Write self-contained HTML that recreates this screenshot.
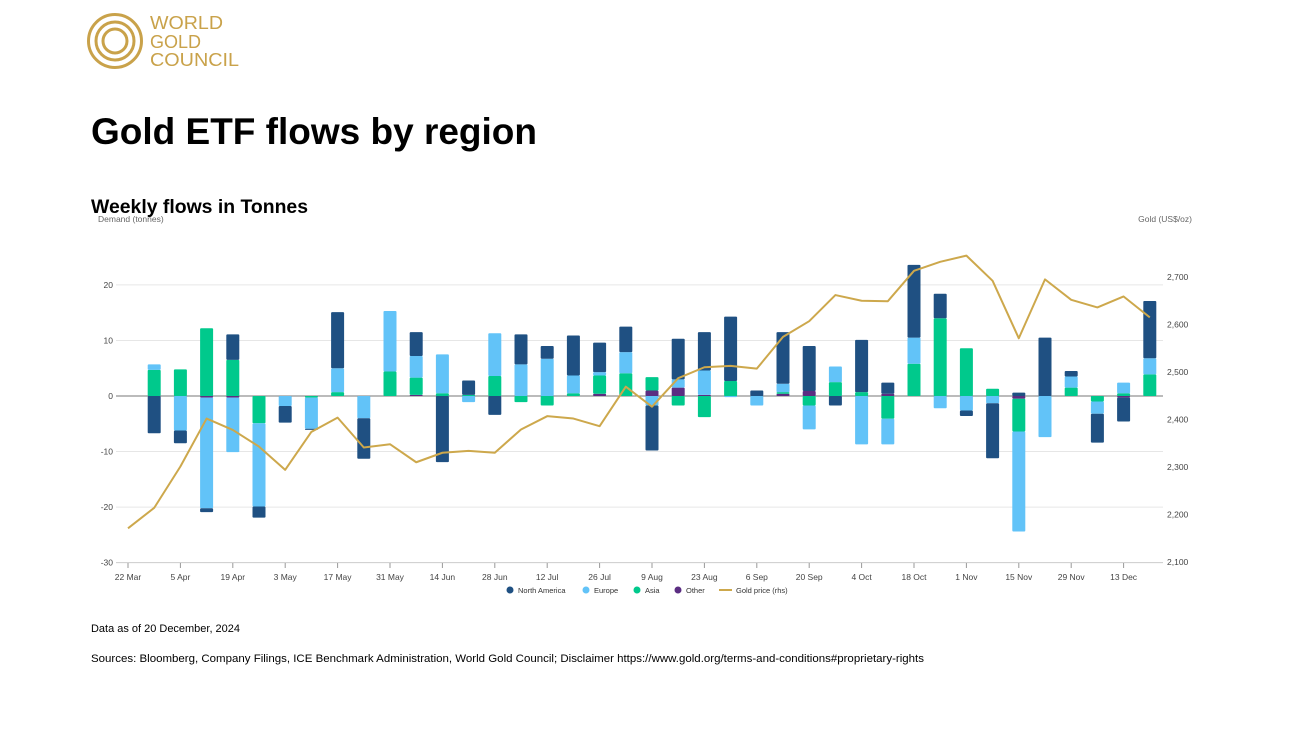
<!DOCTYPE html>
<html><head><meta charset="utf-8"><style>
body{margin:0;width:1292px;height:739px;background:#fff;font-family:"Liberation Sans",sans-serif;position:relative;overflow:hidden}
.abs{position:absolute}
</style></head><body>
<svg class="abs" style="left:0;top:0" width="1292" height="739">
<g fill="none" stroke="#c9a24a">
<circle cx="115" cy="41" r="26.5" stroke-width="3"/>
<circle cx="115" cy="41" r="19" stroke-width="3"/>
<circle cx="115" cy="41" r="12" stroke-width="3"/>
</g>
<g fill="#c9a24a" font-size="18" font-family="Liberation Sans, sans-serif">
<text x="150" y="29" textLength="73" lengthAdjust="spacingAndGlyphs">WORLD</text><text x="150" y="48">GOLD</text><text x="150" y="66" textLength="89" lengthAdjust="spacingAndGlyphs">COUNCIL</text>
</g>
<text x="91" y="144" font-size="37" font-weight="bold" fill="#000" textLength="446" lengthAdjust="spacingAndGlyphs">Gold ETF flows by region</text>
<text x="91" y="213" font-size="19" font-weight="bold" fill="#000" textLength="217" lengthAdjust="spacingAndGlyphs">Weekly flows in Tonnes</text>
<text x="98" y="222" font-size="8.5" fill="#666">Demand (tonnes)</text>
<text x="1192" y="222" font-size="8.5" fill="#666" text-anchor="end">Gold (US$/oz)</text>
<g id="chart"></g>
<g font-size="7.5" fill="#333">
<circle cx="510" cy="590" r="3.5" fill="#1f5082"/><text x="518" y="593">North America</text>
<circle cx="586" cy="590" r="3.5" fill="#62c3f8"/><text x="594" y="593">Europe</text>
<circle cx="637" cy="590" r="3.5" fill="#00c98c"/><text x="645" y="593">Asia</text>
<circle cx="678" cy="590" r="3.5" fill="#5b2d82"/><text x="686" y="593">Other</text>
<line x1="719" y1="590" x2="732" y2="590" stroke="#cda84c" stroke-width="2"/><text x="736" y="593">Gold price (rhs)</text>
</g>
<text x="91" y="632" font-size="11" fill="#000" textLength="149" lengthAdjust="spacingAndGlyphs">Data as of 20 December, 2024</text>
<text x="91" y="662" font-size="11" fill="#000" textLength="833" lengthAdjust="spacingAndGlyphs">Sources: Bloomberg, Company Filings, ICE Benchmark Administration, World Gold Council; Disclaimer https://www.gold.org/terms-and-conditions#proprietary-rights</text>
</svg>
<script>
const tickLabels=["22 Mar","5 Apr","19 Apr","3 May","17 May","31 May","14 Jun","28 Jun","12 Jul","26 Jul","9 Aug","23 Aug","6 Sep","20 Sep","4 Oct","18 Oct","1 Nov","15 Nov","29 Nov","13 Dec"];
const northAmerica=[0,-6.7,-2.3,-0.7,4.6,-2,-3,-0.2,10.1,-7.3,0,4.3,-11.9,2.6,-3.4,5.4,2.3,7.2,5.3,4.6,-8.1,7.3,6.9,11.6,1,9.3,8.1,-1.7,9.4,2,13.1,4.4,-1,-9.9,0.6,10.5,1,-5.2,-4.3,10.3];
const europe=[0,1,-6.2,-19.9,-9.8,-15,-1.8,-5.6,4.3,-4,10.9,3.9,7,-1.1,7.7,5.7,6.7,3.2,0.6,3.8,-1.7,1.5,4.4,-0.2,-1.7,1.5,-4.3,2.8,-8.7,-4.6,4.7,-2.2,-2.6,-1.3,-18,-7.4,2,-2.2,1.9,2.9];
const asia=[0,4.7,4.8,12.2,6.5,-4.9,0,-0.3,0.7,0,4.4,3.1,0.5,0.2,3.6,-1.1,-1.7,0.5,3.3,4.1,2.4,-1.7,-3.8,2.7,0,0.3,-1.7,2.5,0.7,-4.1,5.8,14,8.6,1.3,-5.9,0,1.5,-1,0.5,3.9];
const other=[0,0,0,-0.3,-0.3,0,0,0,0,0,0,0.2,0,0,0,0,0,0,0.4,0,1,1.5,0.2,0,0,0.4,0.9,0,0,0.4,0,0,0,0,-0.5,0,0,0,-0.3,0];
const goldPrice=[2171,2214,2301,2402,2378,2343,2294,2374,2404,2341,2348,2310,2330,2334,2330,2379,2407,2402,2386,2469,2427,2487,2510,2513,2507,2574,2607,2662,2650,2649,2713,2732,2745,2692,2571,2695,2652,2636,2659,2615];
const leftTicks=[20,10,0,-10,-20,-30];
const rightTicks=[2100,2200,2300,2400,2500,2600,2700];
const NS='http://www.w3.org/2000/svg';
const g=document.getElementById('chart');
const X=i=>128+i*26.2;
const Y=v=>396-v*5.555;
const YR=p=>562-(p-2100)*0.475;
function mk(t,a,parent){const e=document.createElementNS(NS,t);for(const k in a)e.setAttribute(k,a[k]);(parent||g).appendChild(e);return e;}
leftTicks.forEach(v=>{
 const l=mk('line',{x1:116,x2:1163,y1:Y(v),y2:Y(v),stroke:v===0?'#777':(v===-30?'#ccc':'#e6e6e6'),'stroke-width':1});
 
 
 const t=mk('text',{x:113,y:Y(v)+3,'font-size':8.5,fill:'#444','text-anchor':'end'});t.textContent=v;
 
 
});
rightTicks.forEach(p=>{
 const t=mk('text',{x:1167,y:YR(p)+3,'font-size':8.5,fill:'#444'});t.textContent=p.toLocaleString('en-US');
 
 
});
tickLabels.forEach((s,k)=>{
 const x=X(k*2);
 const l=mk('line',{x1:x,x2:x,y1:563,y2:568,stroke:'#999'});
 
 
 const t=mk('text',{x:x,y:580,'font-size':8.5,fill:'#444','text-anchor':'middle'});t.textContent=s;
 
 
});
const series=[[other,'#5b2d82','other'],[asia,'#00c98c','asia'],[europe,'#62c3f8','europe'],[northAmerica,'#1f5082','north-america']];
for(let i=0;i<goldPrice.length;i++){
 let pos=0,neg=0;
 series.forEach(([arr,col,nm])=>{
  const v=arr[i];if(!v)return;
  let a,b;
  if(v>0){a=pos;b=pos+v;pos=b;}else{a=neg;b=neg+v;neg=b;}
  const y1=Math.min(Y(a),Y(b)),h=Math.abs(Y(a)-Y(b));
  const r=mk('rect',{x:X(i)-6.5,y:y1,width:13,height:h,fill:col,rx:1});
  
  
 });
}
const pts=goldPrice.map((p,i)=>X(i)+','+YR(p)).join(' ');
const pl=mk('polyline',{points:pts,fill:'none',stroke:'#cda84c','stroke-width':2,'stroke-linejoin':'round'});


</script>
</body></html>
